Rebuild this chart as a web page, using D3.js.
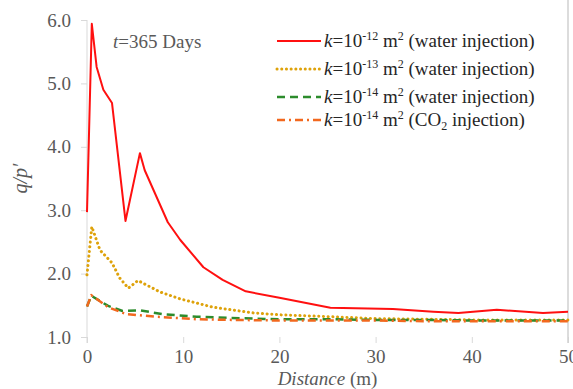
<!DOCTYPE html>
<html>
<head>
<meta charset="utf-8">
<script src="https://cdn.jsdelivr.net/npm/d3@7"></script>
<style>
  body { margin: 0; background: #fff; }
</style>
</head>
<body>
<div id="chart"></div>
<script>
// distances (m) and q/p' values
const k12Dist = [0, 0.5, 1.0, 1.7, 2.6, 4.0, 5.5, 6.0, 8.4, 9.7, 12.1, 14.1, 16.5, 20, 25.3, 31.8, 36, 38.6, 42.6, 47.4, 50];
const k12Vals = [2.97, 5.94, 5.26, 4.9, 4.69, 2.83, 3.9, 3.63, 2.81, 2.53, 2.1, 1.9, 1.72, 1.62, 1.46, 1.44, 1.40, 1.38, 1.43, 1.38, 1.40];

const k13Dist = [0, 0.5, 1.35, 2.6, 3.4, 4.3, 5.3, 7.6, 9.7, 13.1, 17.3, 20, 25.3, 30, 35, 40, 45, 50];
const k13Vals = [1.98, 2.74, 2.37, 2.17, 1.93, 1.77, 1.89, 1.71, 1.60, 1.47, 1.38, 1.35, 1.32, 1.29, 1.28, 1.27, 1.27, 1.27];

const k14Dist = [0, 0.45, 2.2, 3.7, 5.5, 7.9, 11.4, 15, 20, 25, 30, 35, 40, 45, 50];
const k14Vals = [1.48, 1.65, 1.49, 1.41, 1.42, 1.36, 1.32, 1.30, 1.28, 1.28, 1.27, 1.27, 1.26, 1.26, 1.26];

const co2Dist = [0, 0.45, 2.2, 4.1, 7.2, 11.4, 15, 20, 25, 30, 35, 40, 45, 50];
const co2Vals = [1.48, 1.66, 1.47, 1.36, 1.32, 1.28, 1.27, 1.26, 1.26, 1.26, 1.25, 1.25, 1.25, 1.25];

const xTicks = [0, 10, 20, 30, 40, 50];
const yTicks = [1.0, 2.0, 3.0, 4.0, 5.0, 6.0];

const series = [
  { exp: "-12", medium: "water", dist: k12Dist, vals: k12Vals, color: "#ff1010", width: 2, dash: null, cap: "butt" },
  { exp: "-13", medium: "water", dist: k13Dist, vals: k13Vals, color: "#dea20a", width: 3, dash: "0.1,4.6", cap: "round" },
  { exp: "-14", medium: "water", dist: k14Dist, vals: k14Vals, color: "#2c8c2c", width: 2.5, dash: "8,5", cap: "butt" },
  { exp: "-14", medium: "co2", dist: co2Dist, vals: co2Vals, color: "#f2681e", width: 2.5, dash: "8,4,2,4", cap: "butt" }
];

const FONT = '"Liberation Serif", "Times New Roman", serif';
const width = 573, height = 389;
const mLeft = 87, mRight = 568, mTop = 20, mBottom = 337;

const svg = d3.select("#chart").append("svg")
  .attr("width", width)
  .attr("height", height)
  .style("font-family", FONT);

const x = d3.scaleLinear().domain([0, 50]).range([mLeft, mRight]);
const y = d3.scaleLinear().domain([1, 6]).range([mBottom, mTop]);

// y axis
const yAxis = svg.append("g")
  .attr("transform", `translate(${mLeft},0)`)
  .call(d3.axisLeft(y).tickValues(yTicks).tickFormat(d3.format(".1f")).tickSize(6).tickPadding(10));
yAxis.select(".domain").attr("stroke", "#d9d9d9").attr("d", `M0,${mTop}V${mBottom + 6}`);
yAxis.selectAll(".tick line").attr("stroke", "#d9d9d9");
yAxis.selectAll(".tick text").attr("fill", "#595959")
  .style("font-family", FONT).style("font-size", "19px");

// x axis (ticks only)
const xAxis = svg.append("g")
  .attr("transform", `translate(0,${mBottom})`)
  .call(d3.axisBottom(x).tickValues(xTicks).tickSize(6).tickPadding(7));
xAxis.select(".domain").remove();
xAxis.selectAll(".tick line").attr("stroke", "#d9d9d9");
xAxis.selectAll(".tick text").attr("fill", "#595959")
  .style("font-family", FONT).style("font-size", "19px");

// right frame line
svg.append("line")
  .attr("x1", mRight).attr("x2", mRight)
  .attr("y1", 0).attr("y2", mBottom + 6)
  .attr("stroke", "#d0d0d0").attr("stroke-width", 1.5);

// lines
const line = d3.line()
  .x(d => x(d[0]))
  .y(d => y(d[1]));

svg.append("g").selectAll("path")
  .data(series)
  .join("path")
  .attr("d", s => line(d3.zip(s.dist, s.vals)))
  .attr("fill", "none")
  .attr("stroke", s => s.color)
  .attr("stroke-width", s => s.width)
  .attr("stroke-dasharray", s => s.dash)
  .attr("stroke-linecap", s => s.cap)
  .attr("stroke-linejoin", "round");

// time label
const tl = svg.append("text")
  .attr("x", 113).attr("y", 48)
  .attr("fill", "#595959")
  .style("font-family", FONT)
  .style("font-size", "19px");
tl.append("tspan").style("font-style", "italic").text("t");
tl.append("tspan").text("=365 Days");

// legend
const legendY = [41, 69, 97, 120];
const leg = svg.append("g").selectAll("g")
  .data(series)
  .join("g")
  .attr("transform", (d, i) => `translate(0,${legendY[i]})`);

leg.append("line")
  .attr("x1", 277).attr("x2", 321)
  .attr("y1", 0).attr("y2", 0)
  .attr("stroke", s => s.color)
  .attr("stroke-width", s => s.width)
  .attr("stroke-dasharray", s => s.dash)
  .attr("stroke-linecap", s => s.cap);

const lt = leg.append("text")
  .attr("x", 324).attr("y", 6)
  .attr("fill", "#262626")
  .style("font-family", FONT)
  .style("font-size", "19px");
lt.append("tspan").style("font-style", "italic").text("k");
lt.append("tspan").text("=10");
lt.append("tspan").attr("dy", -7).style("font-size", "12px").text(s => s.exp);
lt.append("tspan").attr("dy", 7).text(" m");
lt.append("tspan").attr("dy", -7).style("font-size", "12px").text("2");
lt.each(function(s) {
  const t = d3.select(this);
  if (s.medium === "water") {
    t.append("tspan").attr("dy", 7).text(" (water injection)");
  } else {
    t.append("tspan").attr("dy", 7).text(" (CO");
    t.append("tspan").attr("dy", 4).style("font-size", "12px").text("2");
    t.append("tspan").attr("dy", -4).text(" injection)");
  }
});

// axis titles
svg.append("text")
  .attr("transform", `translate(27,${(mTop + mBottom) / 2}) rotate(-90)`)
  .attr("text-anchor", "middle")
  .attr("fill", "#595959")
  .style("font-family", FONT)
  .style("font-size", "20px")
  .style("font-style", "italic")
  .text("q/p\u2032");

const xt = svg.append("text")
  .attr("x", (mLeft + mRight) / 2).attr("y", 385)
  .attr("text-anchor", "middle")
  .attr("fill", "#595959")
  .style("font-family", FONT)
  .style("font-size", "19px");
xt.append("tspan").style("font-style", "italic").text("Distance");
xt.append("tspan").text(" (m)");
</script>
</body>
</html>
